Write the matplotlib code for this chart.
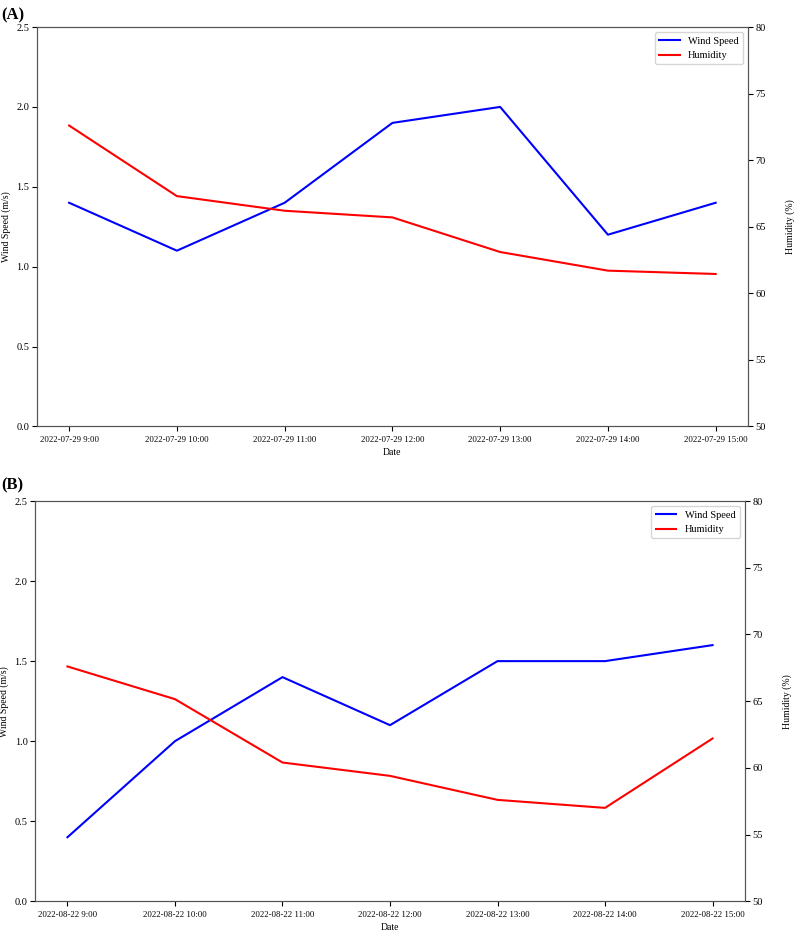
import matplotlib
matplotlib.use('Agg')
import matplotlib.pyplot as plt

plt.rcParams['font.family'] = ['Liberation Serif', 'DejaVu Serif']

### Data
times = ['9:00', '10:00', '11:00', '12:00', '13:00', '14:00', '15:00']
date_a = '2022-07-29'
date_b = '2022-08-22'
wind_a = [1.4, 1.1, 1.4, 1.9, 2.0, 1.2, 1.4]
hum_a = [72.6, 67.3, 66.2, 65.7, 63.1, 61.7, 61.45]
wind_b = [0.4, 1.0, 1.4, 1.1, 1.5, 1.5, 1.6]
hum_b = [67.6, 65.15, 60.4, 59.4, 57.6, 57.0, 62.2]

fig = plt.figure(figsize=(8, 9.33), dpi=100)


def panel(rect, date, wind, hum, tag, tag_y):
    labels = [date + ' ' + t for t in times]
    x = range(len(labels))
    ax = fig.add_axes(rect)
    l1, = ax.plot(x, wind, color='blue', lw=1.5, label='Wind Speed')
    ax.set_ylim(0, 2.5)
    ax.set_xticks(list(x))
    ax.set_xticklabels(labels, fontsize=6.3)
    ax.tick_params(axis='y', labelsize=7.5, pad=2)
    ax.set_ylabel('Wind Speed (m/s)', fontsize=7, labelpad=4)
    ax.set_xlabel('Date', fontsize=7, labelpad=3)
    ax2 = ax.twinx()
    l2, = ax2.plot(x, hum, color='red', lw=1.5, label='Humidity')
    ax2.set_ylim(50, 80)
    ax2.tick_params(axis='y', labelsize=7.5, pad=2)
    ax2.set_ylabel('Humidity (%)', fontsize=7, labelpad=14)
    ax2.legend([l1, l2], ['Wind Speed', 'Humidity'], loc='upper right', fontsize=7.5)
    for a in (ax, ax2):
        for s in a.spines.values():
            s.set_color('#555555')
    fig.text(0.002, tag_y, tag, fontsize=12, fontweight='bold', va='top')
    return ax


panel([0.046, 0.543, 0.889, 0.428], date_a, wind_a, hum_a, '(A)', 0.992)
panel([0.044, 0.034, 0.887, 0.429], date_b, wind_b, hum_b, '(B)', 0.488)

fig.savefig('out.png', dpi=100)
